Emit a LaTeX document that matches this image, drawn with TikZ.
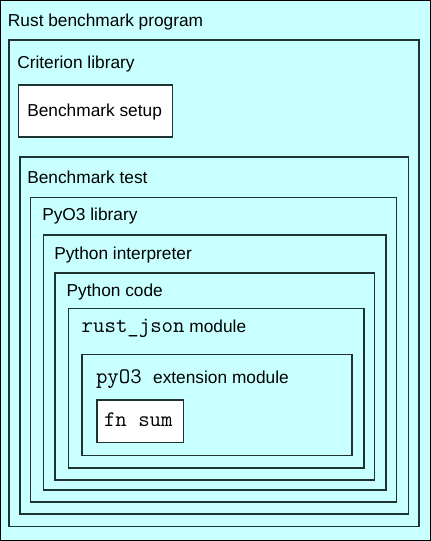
\documentclass[tikz,border=0pt]{standalone}
\usepackage{fontspec}
\setmainfont{Liberation Sans}
\definecolor{cyanfill}{HTML}{C8FFFF}
\definecolor{linecol}{HTML}{1E3232}
\newcommand{\monotxt}{\fontsize{22.2}{24}\selectfont\ttfamily}
\begin{document}
\begin{tikzpicture}[x=1pt,y=-1pt,
  box/.style={draw=linecol, fill=cyanfill, line width=1.6pt, anchor=north west, inner sep=0pt, outer sep=0pt},
  wbox/.style={box, fill=white},
  lbl/.style={anchor=base west, inner sep=0pt, outer sep=0pt, font=\fontsize{17.3}{20}\selectfont},
  mono/.style={font=\monotxt}]
\useasboundingbox (0,0) rectangle (431,541);
\node[box, draw=black, line width=1.2pt, minimum width=430pt, minimum height=540pt] (prog) at (0.5,0.5) {};
\node[box, minimum width=410pt, minimum height=486.3pt] (crit) at (9,40) {};
\node[wbox, minimum width=154pt, minimum height=51.7pt] (setup) at (18.3,85) {};
\node[box, minimum width=388.6pt, minimum height=357.3pt] (test) at (19.7,156.7) {};
\node[box, minimum width=366pt, minimum height=304.4pt] (pyo3) at (30.3,197.3) {};
\node[box, minimum width=342.4pt, minimum height=254.7pt] (interp) at (43.3,235) {};
\node[box, minimum width=319.3pt, minimum height=207.3pt] (code) at (55,272.7) {};
\node[box, minimum width=295.4pt, minimum height=159.4pt] (rjson) at (68.3,308.3) {};
\node[box, minimum width=270pt, minimum height=101pt] (ext) at (81.7,354.3) {};
\node[wbox, minimum width=86.6pt, minimum height=42.3pt] (fnsum) at (96.7,400) {};

\node[lbl] (tprog) at (8,26.7) {Rust benchmark program};
\node[lbl] (tcrit) at (17.3,68.3) {Criterion library};
\node[lbl] (tsetup) at (27.3,116.7) {Benchmark setup};
\node[lbl] (ttest) at (27.3,183.3) {Benchmark test};
\node[lbl] (tpyo3) at (42.3,220) {PyO3 library};
\node[lbl] (tinterp) at (54.3,259) {Python interpreter};
\node[lbl] (tcode) at (66.7,296.7) {Python code};
\node[lbl] (trjson) at (81.7,332.3) {{\monotxt rust\_json} module};
\node[lbl] (text) at (96,383.3) {{\monotxt pyO3\ }extension module};
\node[lbl, mono] (tfnsum) at (104,426.7) {fn sum};
\end{tikzpicture}
\end{document}
